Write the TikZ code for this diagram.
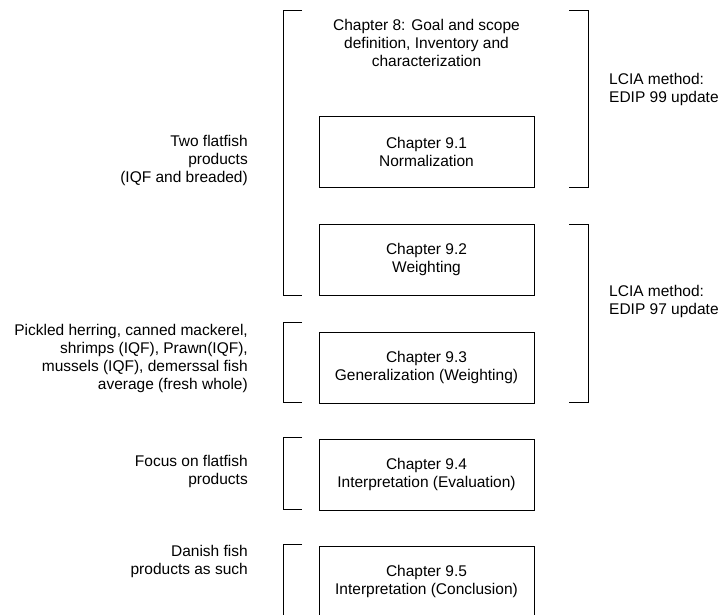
\documentclass[tikz,border=0pt]{standalone}
\usepackage{fontspec}
\setmainfont{Liberation Sans}
\usetikzlibrary{positioning}

\begin{document}
\begin{tikzpicture}[x=1pt,y=-1pt,
  font=\fontsize{15.5}{18}\selectfont,
  chap/.style={draw,line width=0.9pt,minimum width=215pt,minimum height=71pt,
               inner sep=0pt,align=center},
  brace/.style={draw,line width=0.9pt},
  lnote/.style={anchor=east,align=right,inner sep=0pt},
  rnote/.style={anchor=west,align=left,inner sep=0pt}]
  \useasboundingbox (0,0) rectangle (723,614);
  % chapter boxes
  \node[align=center,inner sep=0pt] (c8) at (426.5,43)
    {Chapter 8: Goal and scope\\definition, Inventory and\\characterization};
  \node[chap] (n91) at (426.5,152) {Chapter 9.1\\Normalization};
  \node[chap,below=36pt of n91] (n92) {Chapter 9.2\\Weighting};
  \node[chap,below=36pt of n92] (n93) {Chapter 9.3\\Generalization (Weighting)};
  \node[chap,below=35pt of n93] (n94) {Chapter 9.4\\Interpretation (Evaluation)};
  \node[chap,below=35pt of n94] (n95) {Chapter 9.5\\Interpretation (Conclusion)};
  % brackets, left
  \path[brace] (302,10) -- (283,10) -- (283,295) -- (302,295);
  \path[brace] (302,322) -- (283,322) -- (283,402) -- (302,402);
  \path[brace] (302,437) -- (283,437) -- (283,509) -- (302,509);
  \path[brace] (302,544) -- (283,544) -- (283,620);
  % brackets, right
  \path[brace] (569,10) -- (588,10) -- (588,187) -- (569,187);
  \path[brace] (569,224) -- (588,224) -- (588,402) -- (569,402);
  % notes
  \node[lnote] (p1) at (248,160) {Two flatfish\\products\\(IQF and breaded)};
  \node[lnote] (p2) at (248,358) {Pickled herring, canned mackerel,\\shrimps (IQF), Prawn(IQF),\\mussels (IQF), demerssal fish\\average (fresh whole)};
  \node[lnote] (p3) at (248,471) {Focus on flatfish\\products};
  \node[lnote] (p4) at (248,561) {Danish fish\\products as such};
  \node[rnote] (m1) at (609,89) {LCIA method:\\EDIP 99 update};
  \node[rnote] (m2) at (609,301) {LCIA method:\\EDIP 97 update};
\end{tikzpicture}
\end{document}
